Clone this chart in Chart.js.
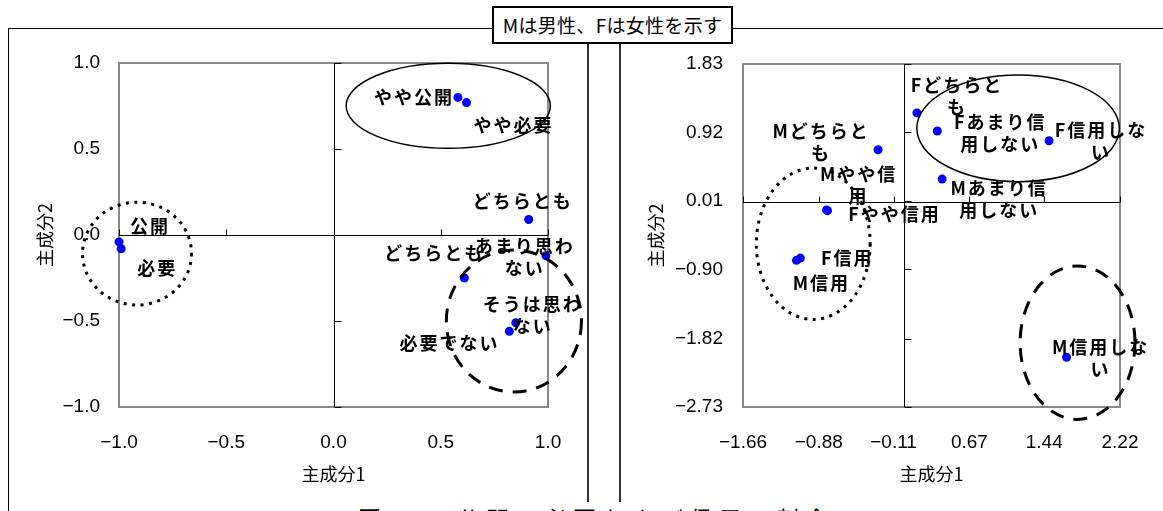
<!DOCTYPE html>
<html><head><meta charset="utf-8">
<script src="https://cdn.jsdelivr.net/npm/chart.js@4.4.1/dist/chart.umd.min.js"></script>
<style>
html,body{margin:0;padding:0;background:#fff;width:1163px;height:511px;overflow:hidden;position:relative;font-family:"Noto Sans CJK JP",sans-serif;}
canvas{position:absolute;left:0;top:0;}
.ln{position:absolute;background:#000;}
#note{position:absolute;left:492px;top:6px;width:237px;height:34px;border:2px solid #000;background:#fff;font-size:19px;line-height:34px;text-align:center;white-space:nowrap;letter-spacing:0.3px;}
#cap{position:absolute;left:358px;top:503px;font-size:23px;letter-spacing:6px;white-space:nowrap;line-height:30px;}
</style></head><body>
<div class="ln" style="left:8px;top:28px;width:1155px;height:1px"></div>
<div class="ln" style="left:8px;top:28px;width:1px;height:483px"></div>
<div class="ln" style="left:587px;top:44px;width:2px;height:458px;background:#333"></div>
<div class="ln" style="left:619px;top:44px;width:2px;height:458px;background:#333"></div>
<div id="note">Mは男性、Fは女性を示す</div>
<div id="cap">図 2 　公開・必要および信用の割合</div>
<canvas id="c1" width="1163" height="511"></canvas>
<canvas id="c2" width="1163" height="511"></canvas>
<script>
// ---- data: left panel ----
const leftLabels = ['公開','必要','やや公開','やや必要','どちらとも','どちらとも','あまり思わ\nない','そうは思わ\nない','必要でない'];
const leftX = [-1.00,-0.99,0.58,0.62,0.91,0.61,0.99,0.85,0.82];
const leftY = [-0.04,-0.08,0.80,0.77,0.09,-0.25,-0.12,-0.51,-0.56];
const leftTicks = [-1.0,-0.5,0.0,0.5,1.0];

// ---- data: right panel ----
const rightLabels = ['M信用','F信用','Mやや信\n用','Fやや信用','Mどちらと\nも','Fどちらと\nも','Mあまり信\n用しない','Fあまり信\n用しない','M信用しな\nい','F信用しな\nい'];
const rightX = [-1.11,-1.07,-0.80,-0.79,-0.27,0.13,0.39,0.34,1.67,1.49];
const rightY = [-0.78,-0.75,-0.11,-0.12,0.69,1.18,0.30,0.94,-2.07,0.81];
const rightXTicks = [-1.66,-0.88,-0.11,0.67,1.44,2.22];
const rightYTicks = [-2.73,-1.82,-0.90,0.01,0.92,1.83];

const xTitle = '主成分1';
const yTitle = '主成分2';

// ---- label placement (pixel offsets from each point) ----
const leftOffsets = [[30,-16],[35,19],[-45,0],[46,23],[-7,-18],[-31,-25],[-22,2],[16,-8],[-61,12]];
const rightOffsets = [[24,23],[46,0],[31,-25],[66,3],[-58,-8],[39,-17],[56,20],[62,2],[33,1],[51,0]];

// ---- group outlines (data units) ----
const leftGroups = [
  {x:0.535,y:0.751,rx:0.476,ry:0.247,style:'solid'},
  {x:-0.916,y:-0.108,rx:0.254,ry:0.299,style:'dotted'},
  {x:0.841,y:-0.50,rx:0.315,ry:0.413,style:'dashed'}
];
const rightGroups = [
  {x:1.171,y:0.975,rx:1.042,ry:0.709,style:'solid'},
  {x:-0.937,y:-0.56,rx:0.586,ry:1.006,style:'dotted'},
  {x:1.783,y:-1.875,rx:0.591,ry:1.02,style:'dashed'}
];

function fmt(d){ return v => (v < 0 ? '\u2212' : '') + Math.abs(v).toFixed(d); }

const decor = {
  id:'decor',
  beforeDatasetsDraw(chart, a, o){
    const {ctx, chartArea:ca, scales:{x,y}} = chart;
    ctx.save();
    ctx.strokeStyle='#8a8a8a'; ctx.lineWidth=2;
    ctx.strokeRect(ca.left, ca.top, ca.right-ca.left, ca.bottom-ca.top);
    const x0 = Math.round(x.getPixelForValue(0))+0.5, y0 = Math.round(y.getPixelForValue(0))+0.5;
    ctx.strokeStyle='#000'; ctx.lineWidth=1;
    ctx.beginPath();
    ctx.moveTo(ca.left, y0); ctx.lineTo(ca.right, y0);
    ctx.moveTo(x0, ca.top); ctx.lineTo(x0, ca.bottom);
    x.ticks.forEach(t=>{const p=Math.round(x.getPixelForValue(t.value))+0.5; ctx.moveTo(p,y0); ctx.lineTo(p,y0-6);});
    y.ticks.forEach(t=>{const p=Math.round(y.getPixelForValue(t.value))+0.5; ctx.moveTo(x0,p); ctx.lineTo(x0+7,p);});
    ctx.stroke();
    ctx.restore();
  },
  afterDatasetsDraw(chart, a, o){
    const {ctx, scales:{x,y}} = chart;
    const meta = chart.getDatasetMeta(0);
    ctx.save();
    ctx.font = 'bold 18px "Noto Sans CJK JP", sans-serif';
    ctx.letterSpacing = '2px';
    ctx.textAlign='center'; ctx.textBaseline='middle'; ctx.fillStyle='#000';
    meta.data.forEach((pt,i)=>{
      const lines = o.labels[i].split('\n');
      const [dx,dy] = o.offsets[i];
      lines.forEach((ln,k)=>ctx.fillText(ln, pt.x+dx+1, pt.y+dy+(k-(lines.length-1)/2)*22));
    });
    ctx.letterSpacing = '0px';
    o.groups.forEach(e=>{
      const cx=x.getPixelForValue(e.x), cy=y.getPixelForValue(e.y);
      const rx=Math.abs(x.getPixelForValue(e.x+e.rx)-cx), ry=Math.abs(y.getPixelForValue(e.y+e.ry)-cy);
      ctx.beginPath(); ctx.ellipse(cx,cy,rx,ry,0,0,Math.PI*2);
      if (e.style==='dotted'){ctx.setLineDash([3,5.5]);ctx.lineWidth=3;}
      else if (e.style==='dashed'){ctx.setLineDash([14,10]);ctx.lineWidth=3;}
      else {ctx.setLineDash([]);ctx.lineWidth=1.5;}
      ctx.strokeStyle='#000'; ctx.stroke();
    });
    ctx.restore();
  }
};

const tickFont = {family:"'Liberation Sans Narrow','Liberation Sans',sans-serif", size:19};
const titleFont = {family:"'Noto Sans CJK JP',sans-serif", size:18};

function makeChart(id, cfg){
  return new Chart(document.getElementById(id), {
    type:'scatter',
    data:{datasets:[{data: cfg.xs.map((v,i)=>({x:v,y:cfg.ys[i]})), backgroundColor:'#0000ff', borderWidth:0, pointRadius:4.5, pointHoverRadius:4.5, clip:false}]},
    options:{
      responsive:false, animation:false, devicePixelRatio:1,
      layout:{padding:cfg.padding},
      plugins:{legend:{display:false}, tooltip:{enabled:false},
        decor:{labels:cfg.labels, offsets:cfg.offsets, groups:cfg.groups}},
      scales:{
        x:{type:'linear', min:cfg.xTicks[0], max:cfg.xTicks[cfg.xTicks.length-1],
          afterBuildTicks:s=>{s.ticks = cfg.xTicks.map(v=>({value:v}));},
          afterFit:s=>{s.height=78;},
          grid:{display:false, drawTicks:false}, border:{display:false},
          ticks:{padding:24, font:tickFont, color:'#000', callback:fmt(cfg.dec), autoSkip:false, maxRotation:0},
          title:{display:true, text:xTitle, font:titleFont, color:'#000', padding:0}},
        y:{type:'linear', min:cfg.yTicks[0], max:cfg.yTicks[cfg.yTicks.length-1],
          afterBuildTicks:s=>{s.ticks = cfg.yTicks.map(v=>({value:v}));},
          afterFit:s=>{s.width=cfg.yw;},
          grid:{display:false, drawTicks:false}, border:{display:false},
          ticks:{padding:cfg.ypad, font:tickFont, color:'#000', callback:fmt(cfg.dec), autoSkip:false},
          title:{display:true, text:yTitle, font:titleFont, color:'#000', padding:0}}
      }
    },
    plugins:[decor]
  });
}

makeChart('c1', {xs:leftX, ys:leftY, labels:leftLabels, offsets:leftOffsets, groups:leftGroups,
  xTicks:leftTicks, yTicks:leftTicks, dec:1, yw:85, ypad:19,
  padding:{left:34, top:63, right:615, bottom:26}});
makeChart('c2', {xs:rightX, ys:rightY, labels:rightLabels, offsets:rightOffsets, groups:rightGroups,
  xTicks:rightXTicks, yTicks:rightYTicks, dec:2, yw:98, ypad:20,
  padding:{left:645, top:64, right:43, bottom:26}});
</script>
</body></html>
